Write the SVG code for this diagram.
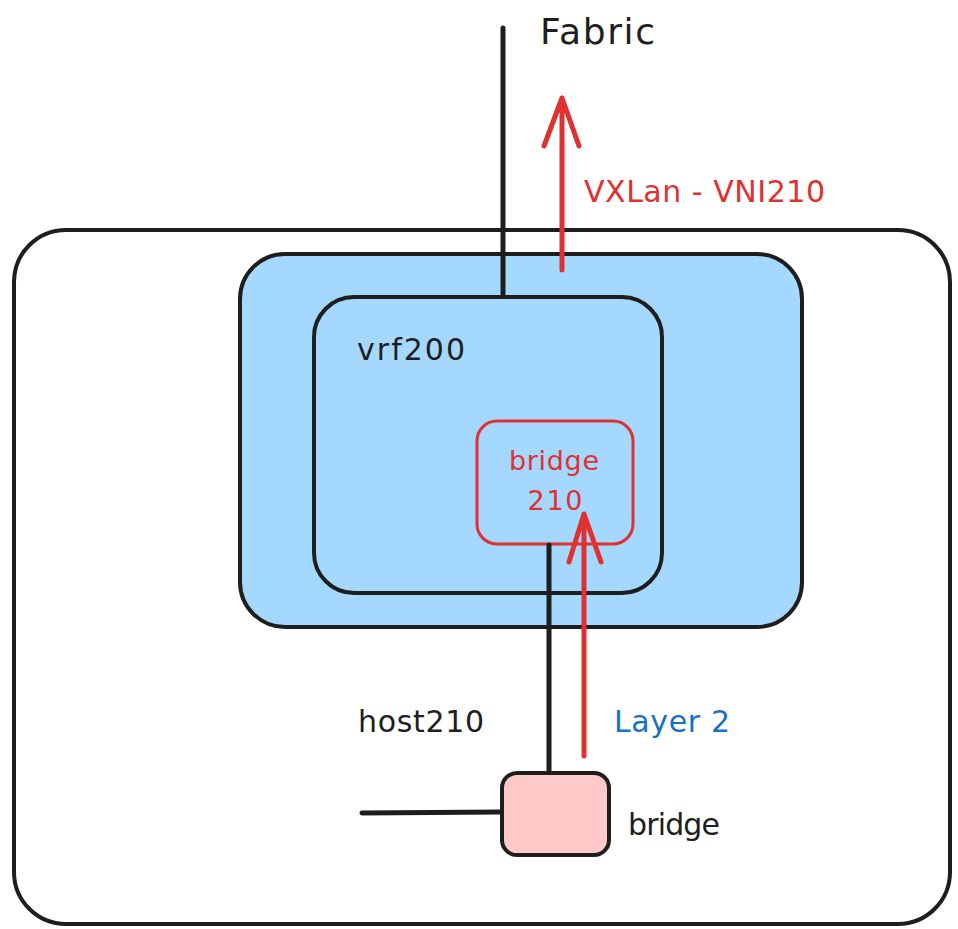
<svg xmlns="http://www.w3.org/2000/svg" width="958" height="929" viewBox="0 0 958 929">
  <defs>
    <style>
      .box { stroke: #1e1e1e; stroke-width: 4; stroke-linejoin: round; }
      .wire { stroke: #1e1e1e; stroke-width: 5; fill: none; stroke-linecap: round; }
      .flow { stroke: #e03131; stroke-width: 5; fill: none; stroke-linecap: round; stroke-linejoin: round; }
      .lbl { font-family: "DejaVu Sans", "Liberation Sans", sans-serif; font-size: 30px; fill: #1e1e1e; }
      .big { font-size: 36px; }
      .small { font-size: 27px; }
      .red { fill: #e03131; }
      .blue { fill: #1971c2; }
    </style>
  </defs>
  <rect width="958" height="929" fill="#ffffff"/>

  <!-- host chassis -->
  <g id="host">
    <rect class="box" x="14" y="230" width="936" height="694" rx="52" fill="#ffffff"/>
    <text class="lbl" x="358" y="732" textLength="126">host210</text>
  </g>

  <!-- blue container -->
  <g id="container">
    <rect class="box" x="240" y="254" width="562" height="373" rx="45" fill="#a5d8ff"/>
  </g>

  <!-- vrf -->
  <g id="vrf200">
    <rect class="box" x="314" y="297" width="348" height="296" rx="40" fill="#a5d8ff"/>
    <text class="lbl" x="357" y="360" textLength="108">vrf200</text>
  </g>

  <!-- bridge 210 -->
  <g id="bridge210">
    <rect x="477" y="421" width="156" height="123" rx="20" fill="#a5d8ff" stroke="#e03131" stroke-width="3"/>
    <text class="lbl small red" x="554" y="470" text-anchor="middle" textLength="90">bridge</text>
    <text class="lbl small red" x="555" y="510" text-anchor="middle" textLength="55">210</text>
  </g>

  <!-- host bridge -->
  <g id="bridge">
    <rect class="box" x="502" y="773" width="107" height="82" rx="15" fill="#ffc9c9"/>
    <text class="lbl" x="628" y="835" textLength="92">bridge</text>
  </g>

  <!-- external labels -->
  <g id="fabric">
    <text class="lbl big" x="540" y="44" textLength="115">Fabric</text>
  </g>

  <!-- connectors -->
  <g id="connectors">
    <line class="wire" x1="503" y1="28" x2="503" y2="294"/>
    <line class="wire" x1="549" y1="545" x2="549" y2="772"/>
    <line class="wire" x1="362" y1="813" x2="501" y2="812"/>

    <!-- VXLAN uplink -->
    <path class="flow" d="M562 270 L562 98 M544 146 L562 98 L579 146"/>
    <text class="lbl red" x="584" y="202" textLength="241">VXLan - VNI210</text>

    <!-- layer 2 path -->
    <path class="flow" d="M584 756 L584 514 M569 562 L584 514 L601 562"/>
    <text class="lbl blue" x="614" y="732" textLength="116">Layer 2</text>
  </g>
</svg>
